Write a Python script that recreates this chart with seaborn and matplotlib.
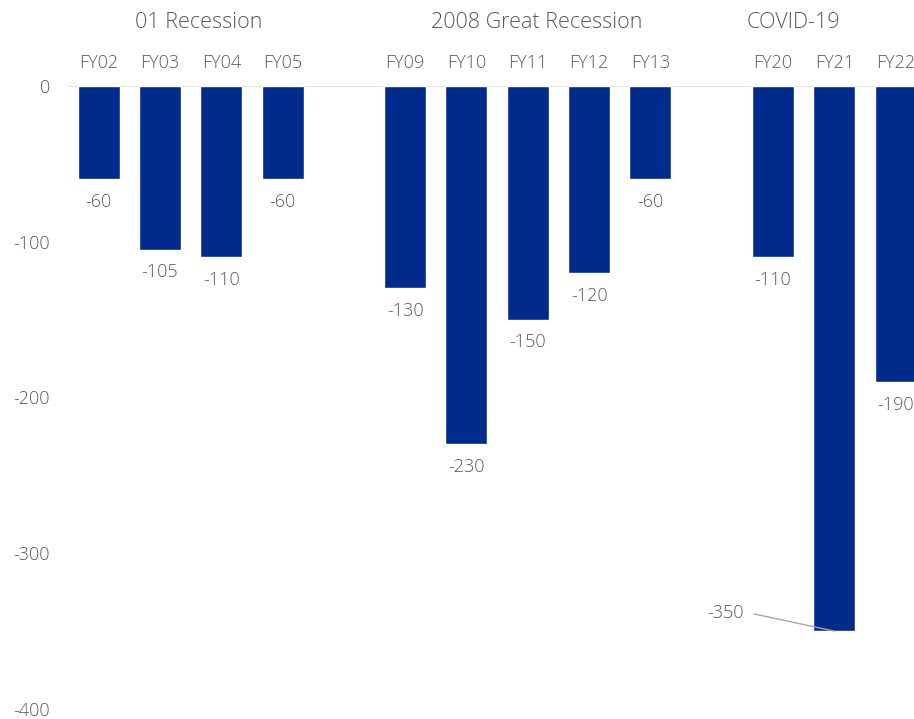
import matplotlib
matplotlib.use("Agg")
import matplotlib.pyplot as plt
import seaborn as sns
import pandas as pd

# ---- data ----
categories = ["FY02", "FY03", "FY04", "FY05",
              "FY09", "FY10", "FY11", "FY12", "FY13",
              "FY20", "FY21", "FY22"]
values = [-60, -105, -110, -60,
          -130, -230, -150, -120, -60,
          -110, -350, -190]
# slot order with blank spacers between the recession groups
order = ["FY02", "FY03", "FY04", "FY05", " ",
         "FY09", "FY10", "FY11", "FY12", "FY13", "  ",
         "FY20", "FY21", "FY22"]
group_titles = ["01 Recession", "2008 Great Recession", "COVID-19"]
group_title_x = [1.63, 7.14, 11.33]
y_ticks = [0, -100, -200, -300, -400]

sns.set_style("white")
plt.rcParams["font.family"] = ["Open Sans", "DejaVu Sans"]
plt.rcParams["font.weight"] = "light"

TXT = "#595959"
BAR = "#002A8C"

fig = plt.figure(figsize=(9.14, 7.19), dpi=100)
ax = fig.add_axes([68 / 914, 10 / 719, (914 - 68) / 914, 623 / 719])

df = pd.DataFrame({"cat": categories, "val": values})
sns.barplot(data=df, x="cat", y="val", order=order, color=BAR,
            saturation=1, width=0.685, ax=ax)

ax.set_xlim(-0.5, 13.3)
ax.set_ylim(-400, 0)
for s in ax.spines.values():
    s.set_visible(False)
ax.axhline(0, color="#d9d9d9", lw=1.2, zorder=0)

ax.set_xlabel("")
ax.set_ylabel("")
ax.xaxis.tick_top()
ax.set_xticks(range(len(order)))
ax.set_xticklabels(order, fontweight="light")
ax.tick_params(axis="x", length=0, pad=10, labelsize=13, labelcolor=TXT)
ax.set_yticks(y_ticks)
ax.set_yticklabels([str(v) for v in y_ticks], fontweight="light")
ax.tick_params(axis="y", length=0, pad=13, labelsize=13, labelcolor=TXT)
ax.grid(False)

# value labels
for cat, v in zip(categories, values):
    xi = order.index(cat)
    if v == min(values):
        ax.annotate(str(v), xy=(xi, v), xytext=(-65, 13),
                    textcoords="offset points", ha="right", va="center",
                    fontsize=13, color=TXT, annotation_clip=False,
                    fontweight="light",
                    arrowprops=dict(arrowstyle="-", color="#a6a6a6", lw=1,
                                    relpos=(1, 0.5), shrinkA=5, shrinkB=0,
                                    connectionstyle="arc,angleA=0,armA=6,angleB=0,armB=0,rad=0"))
    else:
        ax.annotate(str(v), xy=(xi, v), xytext=(0, -16.3),
                    textcoords="offset points", ha="center", va="center",
                    fontsize=13, color=TXT, annotation_clip=False,
                    fontweight="light")

# group titles
for t, gx in zip(group_titles, group_title_x):
    ax.text(gx, 40.8, t, ha="center", va="center", fontsize=15.5,
            color=TXT, clip_on=False, fontweight="light")

fig.savefig("out.png", dpi=100)
